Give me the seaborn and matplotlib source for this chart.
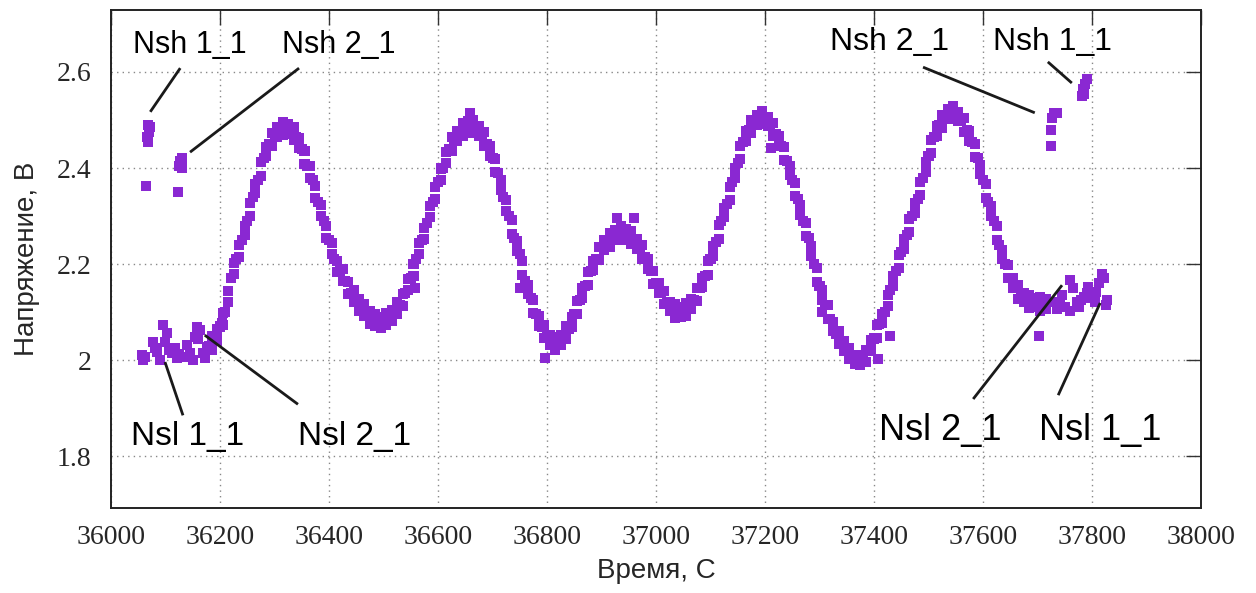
import matplotlib
matplotlib.use("Agg")
import matplotlib.pyplot as plt
import seaborn as sns
import pandas as pd

# Main oscillation: centre of the trace, time (s) and voltage (V)
main_t = [36180, 36190, 36200, 36210, 36220, 36230, 36240, 36250, 36260, 36270,
          36280, 36290, 36300, 36310, 36320, 36330, 36340, 36350, 36360, 36370,
          36380, 36390, 36400, 36410, 36420, 36430, 36440, 36450, 36460, 36470,
          36480, 36490, 36500, 36510, 36520, 36530, 36540, 36550, 36560, 36570,
          36580, 36590, 36600, 36610, 36620, 36630, 36640, 36650, 36660, 36670,
          36680, 36690, 36700, 36710, 36720, 36730, 36740, 36750, 36760, 36770,
          36780, 36790, 36800, 36810, 36820, 36830, 36840, 36850, 36860, 36870,
          36880, 36890, 36900, 36910, 36920, 36930, 36940, 36950, 36960, 36970,
          36980, 36990, 37000, 37010, 37020, 37030, 37040, 37050, 37060, 37070,
          37080, 37090, 37100, 37110, 37120, 37130, 37140, 37150, 37160, 37170,
          37180, 37190, 37200, 37210, 37220, 37230, 37240, 37250, 37260, 37270,
          37280, 37290, 37300, 37310, 37320, 37330, 37340, 37350, 37360, 37370,
          37380, 37390, 37400, 37410, 37420, 37430, 37440, 37450, 37460, 37470,
          37480, 37490, 37500, 37510, 37520, 37530, 37540, 37550, 37560, 37570,
          37580, 37590, 37600, 37610, 37620, 37630, 37640, 37650, 37660, 37670,
          37680, 37690, 37700, 37710, 37720]
main_v = [2.030, 2.040, 2.070, 2.100, 2.170, 2.210, 2.250, 2.290, 2.340, 2.375,
          2.420, 2.450, 2.470, 2.480, 2.485, 2.480, 2.465, 2.440, 2.405, 2.375,
          2.330, 2.290, 2.250, 2.210, 2.185, 2.165, 2.140, 2.125, 2.110, 2.095,
          2.085, 2.080, 2.080, 2.090, 2.100, 2.115, 2.140, 2.170, 2.210, 2.250,
          2.285, 2.330, 2.370, 2.400, 2.440, 2.460, 2.475, 2.485, 2.490, 2.485,
          2.470, 2.450, 2.420, 2.390, 2.340, 2.300, 2.255, 2.220, 2.165, 2.130,
          2.095, 2.070, 2.050, 2.035, 2.035, 2.050, 2.065, 2.095, 2.125, 2.155,
          2.185, 2.210, 2.235, 2.245, 2.255, 2.265, 2.265, 2.260, 2.250, 2.235,
          2.215, 2.185, 2.160, 2.140, 2.120, 2.105, 2.100, 2.100, 2.110, 2.125,
          2.150, 2.175, 2.210, 2.245, 2.290, 2.325, 2.370, 2.410, 2.455, 2.480,
          2.495, 2.505, 2.505, 2.490, 2.470, 2.445, 2.415, 2.375, 2.335, 2.290,
          2.255, 2.200, 2.155, 2.115, 2.085, 2.055, 2.040, 2.020, 2.005, 1.995,
          2.000, 2.020, 2.045, 2.075, 2.100, 2.145, 2.185, 2.225, 2.260, 2.300,
          2.335, 2.380, 2.425, 2.465, 2.490, 2.505, 2.520, 2.515, 2.500, 2.480,
          2.455, 2.420, 2.375, 2.330, 2.290, 2.240, 2.200, 2.170, 2.150, 2.135,
          2.125, 2.120, 2.120, 2.115, 2.120]

# Samples between the above, lower and upper side of the noisy trace
edge_t = [36185, 36195, 36205, 36215, 36225, 36235, 36245, 36255, 36265, 36275,
          36285, 36295, 36305, 36315, 36325, 36335, 36345, 36355, 36365, 36375,
          36385, 36395, 36405, 36415, 36425, 36435, 36445, 36455, 36465, 36475,
          36485, 36495, 36505, 36515, 36525, 36535, 36545, 36555, 36565, 36575,
          36585, 36595, 36605, 36615, 36625, 36635, 36645, 36655, 36665, 36675,
          36685, 36695, 36705, 36715, 36725, 36735, 36745, 36755, 36765, 36775,
          36785, 36795, 36805, 36815, 36825, 36835, 36845, 36855, 36865, 36875,
          36885, 36895, 36905, 36915, 36925, 36935, 36945, 36955, 36965, 36975,
          36985, 36995, 37005, 37015, 37025, 37035, 37045, 37055, 37065, 37075,
          37085, 37095, 37105, 37115, 37125, 37135, 37145, 37155, 37165, 37175,
          37185, 37195, 37205, 37215, 37225, 37235, 37245, 37255, 37265, 37275,
          37285, 37295, 37305, 37315, 37325, 37335, 37345, 37355, 37365, 37375,
          37385, 37395, 37405, 37415, 37425, 37435, 37445, 37455, 37465, 37475,
          37485, 37495, 37505, 37515, 37525, 37535, 37545, 37555, 37565, 37575,
          37585, 37595, 37605, 37615, 37625, 37635, 37645, 37655, 37665, 37675,
          37685, 37695, 37705, 37715]
edge_lo = [2.022, 2.040, 2.074, 2.120, 2.180, 2.215, 2.260, 2.300, 2.347, 2.384,
           2.425, 2.445, 2.464, 2.468, 2.470, 2.458, 2.442, 2.408, 2.380, 2.338,
           2.300, 2.255, 2.220, 2.183, 2.165, 2.138, 2.122, 2.103, 2.092, 2.075,
           2.071, 2.066, 2.074, 2.081, 2.097, 2.113, 2.145, 2.176, 2.220, 2.253,
           2.297, 2.336, 2.375, 2.410, 2.436, 2.457, 2.466, 2.477, 2.473, 2.467,
           2.446, 2.425, 2.391, 2.355, 2.310, 2.262, 2.227, 2.178, 2.137, 2.098,
           2.072, 2.046, 2.032, 2.021, 2.032, 2.043, 2.070, 2.096, 2.130, 2.156,
           2.187, 2.208, 2.230, 2.236, 2.250, 2.251, 2.252, 2.241, 2.232, 2.211,
           2.190, 2.158, 2.140, 2.116, 2.102, 2.088, 2.090, 2.091, 2.107, 2.123,
           2.152, 2.178, 2.217, 2.253, 2.297, 2.333, 2.380, 2.418, 2.457, 2.473,
           2.490, 2.491, 2.487, 2.466, 2.447, 2.416, 2.385, 2.341, 2.302, 2.258,
           2.217, 2.163, 2.125, 2.086, 2.060, 2.033, 2.020, 2.002, 1.991, 1.990,
           1.997, 2.022, 2.046, 2.077, 2.112, 2.155, 2.191, 2.232, 2.266, 2.307,
           2.343, 2.392, 2.431, 2.467, 2.483, 2.502, 2.503, 2.497, 2.476, 2.457,
           2.423, 2.387, 2.338, 2.300, 2.251, 2.210, 2.171, 2.150, 2.128, 2.120,
           2.108, 2.110, 2.103, 2.107]
edge_hi = [2.050, 2.064, 2.098, 2.144, 2.203, 2.240, 2.280, 2.328, 2.366, 2.412,
           2.444, 2.473, 2.485, 2.496, 2.492, 2.486, 2.463, 2.436, 2.404, 2.362,
           2.324, 2.280, 2.244, 2.207, 2.189, 2.162, 2.147, 2.127, 2.116, 2.103,
           2.095, 2.090, 2.098, 2.105, 2.121, 2.137, 2.169, 2.200, 2.244, 2.276,
           2.321, 2.360, 2.399, 2.434, 2.464, 2.477, 2.494, 2.498, 2.501, 2.487,
           2.474, 2.445, 2.419, 2.375, 2.334, 2.291, 2.247, 2.206, 2.157, 2.126,
           2.092, 2.074, 2.052, 2.049, 2.052, 2.071, 2.090, 2.124, 2.150, 2.184,
           2.207, 2.236, 2.250, 2.264, 2.270, 2.279, 2.272, 2.269, 2.252, 2.239,
           2.210, 2.186, 2.160, 2.144, 2.122, 2.116, 2.110, 2.119, 2.127, 2.151,
           2.172, 2.206, 2.237, 2.281, 2.317, 2.361, 2.400, 2.446, 2.477, 2.501,
           2.510, 2.519, 2.507, 2.494, 2.467, 2.444, 2.405, 2.369, 2.322, 2.286,
           2.237, 2.191, 2.145, 2.114, 2.080, 2.061, 2.040, 2.026, 2.010, 2.011,
           2.020, 2.042, 2.074, 2.097, 2.136, 2.175, 2.219, 2.252, 2.294, 2.327,
           2.371, 2.412, 2.459, 2.487, 2.511, 2.522, 2.530, 2.517, 2.504, 2.477,
           2.451, 2.407, 2.366, 2.320, 2.279, 2.230, 2.199, 2.170, 2.156, 2.140,
           2.136, 2.130, 2.131, 2.127]

# Stray samples scattered off the main trace
stray_t = [36659, 36796, 36929, 36960, 36558, 36750, 37211, 37429, 37407, 37305, 37703]
stray_v = [2.515, 2.004, 2.296, 2.296, 2.150, 2.150, 2.442, 2.050, 2.002, 2.100, 2.050]

# Low-level sensor groups (start and end of the run)
nsl_start_t = [36057, 36059, 36062, 36077, 36084, 36090, 36096, 36103, 36099, 36112,
               36117, 36125, 36139, 36145, 36150, 36154, 36158, 36163, 36169, 36176,
               36187, 36194, 36204, 36106, 36133, 36080, 36121, 36160, 36172]
nsl_start_v = [2.010, 2.000, 2.006, 2.038, 2.017, 2.000, 2.073, 2.056, 2.038, 2.015,
               2.025, 2.012, 2.031, 2.015, 2.000, 2.048, 2.069, 2.063, 2.015, 2.027,
               2.042, 2.056, 2.077, 2.022, 2.006, 2.026, 2.005, 2.045, 2.004]
nsl_end_t = [37730, 37735, 37741, 37745, 37750, 37760, 37765, 37772, 37780, 37785,
             37790, 37793, 37798, 37805, 37812, 37818, 37822, 37827, 37825, 37760,
             37776, 37808]
nsl_end_v = [2.120, 2.107, 2.119, 2.135, 2.110, 2.167, 2.150, 2.120, 2.125, 2.132,
             2.140, 2.152, 2.130, 2.120, 2.160, 2.180, 2.170, 2.125, 2.115, 2.103,
             2.110, 2.142]

# High-level sensor groups
nsh_t = [36068, 36072, 36070, 36066, 36068, 36064,
         36130, 36127, 36125, 36130, 36123,
         37735, 37730, 37727, 37725, 37724,
         37790, 37787, 37784, 37786, 37782]
nsh_v = [2.490, 2.485, 2.475, 2.465, 2.455, 2.362,
         2.420, 2.415, 2.405, 2.400, 2.350,
         2.515, 2.515, 2.505, 2.480, 2.445,
         2.585, 2.575, 2.565, 2.555, 2.550]

# Callouts: label, text position, leader line (start, end)
labels = ["Nsh 1_1", "Nsh 2_1", "Nsl 1_1", "Nsl 2_1",
          "Nsh 2_1", "Nsh 1_1", "Nsl 2_1", "Nsl 1_1"]
label_xy = [(36145, 2.656), (36417, 2.656), (36141, 1.840), (36446, 1.840),
            (37429, 2.662), (37728, 2.662), (37521, 1.854), (37815, 1.854)]
label_size = [22, 22, 24, 24, 23, 23, 26, 26]
leader_from = [(36127, 2.608), (36345, 2.608), (36099, 1.996), (36172, 2.052),
               (37490, 2.610), (37719, 2.621), (37745, 2.156), (37815, 2.119)]
leader_to = [(36072, 2.517), (36145, 2.433), (36132, 1.885), (36343, 1.908),
             (37695, 2.515), (37763, 2.577), (37582, 1.919), (37738, 1.927)]

x_ticks = [36000, 36200, 36400, 36600, 36800, 37000, 37200, 37400, 37600, 37800, 38000]
y_ticks = [1.8, 2.0, 2.2, 2.4, 2.6]
y_tick_labels = ["1.8", "2", "2.2", "2.4", "2.6"]

sns.set_style("white")
plt.rcParams["font.family"] = ["Liberation Sans", "DejaVu Sans"]

df = pd.DataFrame({
    "t": main_t + edge_t + edge_t + stray_t + nsl_start_t + nsl_end_t + nsh_t,
    "v": main_v + edge_lo + edge_hi + stray_v + nsl_start_v + nsl_end_v + nsh_v,
})

fig = plt.figure(figsize=(12.56, 5.93), dpi=100)
ax = fig.add_axes([0.0884, 0.1433, 0.8678, 0.8398])

purple = "#8a28d2"
sns.scatterplot(data=df, x="t", y="v", marker="s", s=52, color=purple,
                edgecolor="none", linewidth=0, ax=ax, zorder=3)

for lab, (tx, ty), fs, p0, p1 in zip(labels, label_xy, label_size, leader_from, leader_to):
    ax.text(tx, ty, lab, fontsize=fs, ha="center", va="center", color="black",
            family=["Liberation Sans", "DejaVu Sans"], zorder=5)
    ax.plot([p0[0], p1[0]], [p0[1], p1[1]], color="#1a1a1a", lw=2.0,
            solid_capstyle="butt", zorder=4)

ax.set_xlim(36000, 38000)
ax.set_ylim(1.692, 2.729)
ax.set_xticks(x_ticks)
ax.set_xticklabels([str(x) for x in x_ticks])
ax.set_yticks(y_ticks)
ax.set_yticklabels(y_tick_labels)
for lbl in ax.get_xticklabels() + ax.get_yticklabels():
    lbl.set_family(["Liberation Serif", "DejaVu Serif"])
    lbl.set_fontsize(20)

ax.tick_params(direction="in", length=11, width=1.0, top=True, right=True,
               color="#333333", pad=12)
ax.tick_params(axis="y", pad=14)
ax.grid(True, linestyle=(0, (1, 3)), color="#888888", linewidth=1.0)
for sp in ax.spines.values():
    sp.set_color("#222222")
    sp.set_linewidth(1.4)

ax.set_xlabel("Время, С", fontsize=20, labelpad=6)
ax.set_ylabel("Напряжение, В", fontsize=20, labelpad=12)

fig.savefig("out.png", dpi=100)
